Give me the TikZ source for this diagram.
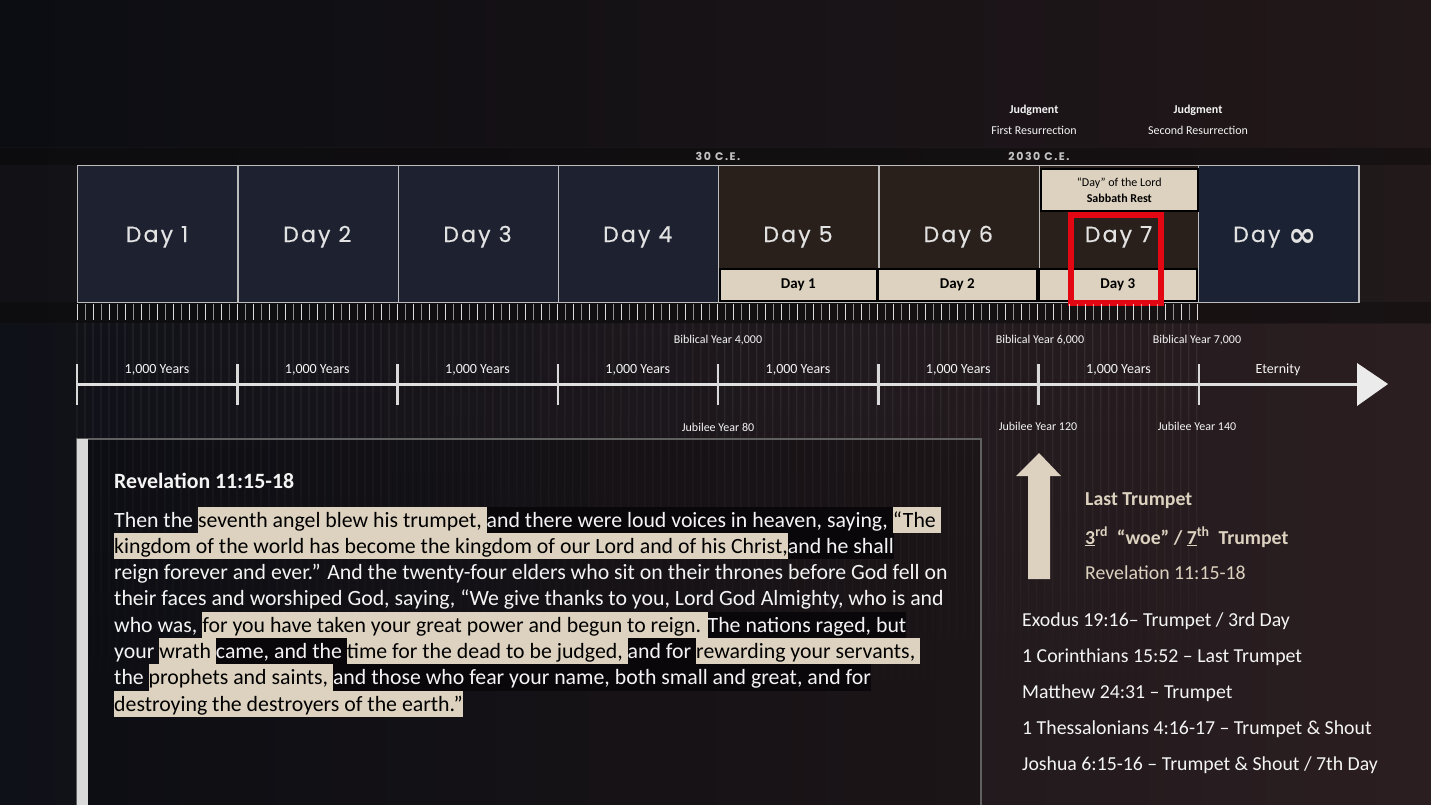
\documentclass[tikz,border=0pt]{standalone}
\usepackage{fontspec}
\setmainfont{Carlito}
\newfontfamily\dayfont[LetterSpace=10, FakeBold=0.5]{Poppins}
\newfontfamily\erafont[LetterSpace=14]{Poppins}
\newfontfamily\symfont{DejaVu Sans}
\usetikzlibrary{fadings}

\definecolor{bgleft}{HTML}{0F1118}
\definecolor{bgright}{HTML}{2B1E20}
\definecolor{bandl}{HTML}{121216}
\definecolor{bandr}{HTML}{21191A}
\definecolor{bluebox}{HTML}{1D2130}
\definecolor{infbox}{HTML}{1A2233}
\definecolor{brownbox}{HTML}{2A201B}
\definecolor{framec}{HTML}{BDBDBD}
\definecolor{beige}{HTML}{DDD2BF}
\definecolor{daytext}{HTML}{E2E2E2}
\definecolor{textw}{HTML}{F4F4F4}
\definecolor{darkhl}{HTML}{0A070A}
\definecolor{redmark}{HTML}{E30613}

% highlighted phrases in the quoted passage
\newcommand\hlb[1]{{\setlength\fboxsep{0pt}\colorbox{beige}{\color{black}\vrule height 20.5pt depth 5.8pt width 0pt #1}}}
\newcommand\hlk[1]{{\setlength\fboxsep{0pt}\colorbox{darkhl}{\vrule height 20.5pt depth 5.8pt width 0pt #1}}}

\tikzset{
  daybox/.style={draw=framec, line width=1.4pt, minimum width=160.25pt, minimum height=137pt, anchor=north west, inner sep=0pt},
  daylabel/.style={anchor=base, inner sep=0pt, font=\dayfont\fontsize{22}{22}\selectfont, text=daytext},
  beigebox/.style={draw=black, line width=1.6pt, fill=beige, anchor=north west, inner sep=0pt},
  smalllab/.style={font=\fontsize{12}{14}\selectfont, text=textw},
  boldlab/.style={font=\bfseries\fontsize{12}{14}\selectfont, text=textw},
  eralab/.style={font=\erafont\bfseries\fontsize{11}{13}\selectfont, text=textw!80!black},
  yearlab/.style={font=\fontsize{14}{16}\selectfont, text=textw},
  bodyline/.style={anchor=base west, inner sep=0pt, font=\fontsize{21.8}{26}\selectfont, text=textw},
  reflist/.style={anchor=west, inner sep=0pt, font=\fontsize{19.8}{22}\selectfont, text=textw},
  trumpet/.style={anchor=west, inner sep=0pt, font=\fontsize{19.8}{22}\selectfont, text=beige},
}

\begin{document}
\begin{tikzpicture}[x=1pt,y=-1pt]
\useasboundingbox (0,0) rectangle (1431,805);

% background
\shade[left color=bgleft, right color=bgright] (0,0) rectangle (1431,805);
\fill[black, opacity=0.2] (0,0) rectangle (1431,148);
\shade[left color=bandl, right color=bandr] (0,148) rectangle (1431,323);
\fill[black, opacity=0.3] (0,148) rectangle (1431,165);
\fill[black, opacity=0.25] (0,302) rectangle (1431,323);

% faint vertical stripes below the ruler
\fill[white, opacity=0.08, path fading=south]
  \foreach \i in {0,...,140} { (77+\i*8.007,323) rectangle ++(1.2,400) };

% the eight days
\foreach \k/\col in {0/bluebox, 1/bluebox, 2/bluebox, 3/bluebox, 4/brownbox, 5/brownbox, 6/brownbox} {
  \node[daybox, fill=\col] (day\k) at (77+\k*160.25,165) {};
}
\node[daybox, fill=infbox] (dayinf) at (1198,165) {};
\foreach \k/\lab in {0/Day 1, 1/Day 2, 2/Day 3, 3/Day 4, 4/Day 5, 5/Day 6, 6/Day 7} {
  \node[daylabel] (dlab\k) at (157+\k*160.25,242) {\lab};
}
\node[daylabel] (dlabinf) at (1275,242) {Day\hspace{8pt}\raisebox{-4.5pt}{\symfont\bfseries\fontsize{34}{34}\selectfont ∞}};

% Sabbath box and the three-day boxes
\node[beigebox, minimum width=157pt, minimum height=42pt] (sabbath) at (1040,168) {};
\node[font=\fontsize{12}{14}\selectfont, text=black, align=center] (sabtxt) at (sabbath.center)
  {“Day” of the Lord\\[2pt]\bfseries Sabbath Rest};
\node[beigebox, minimum width=157pt, minimum height=32pt] (tday1) at (719,268) {};
\node[beigebox, minimum width=159pt, minimum height=32pt] (tday2) at (877,268) {};
\node[beigebox, minimum width=158pt, minimum height=32pt] (tday3) at (1038,268) {};
\foreach \n/\t in {tday1/Day 1, tday2/Day 2, tday3/Day 3}
  \node[font=\bfseries\fontsize{15}{17}\selectfont, text=black] (\n lab) at (\n.center) {\t};

% red marker round Day 7 / Day 3
\node[draw=redmark, line width=5.5pt, minimum width=90pt, minimum height=88pt, inner sep=0pt] (redmark) at (1116,259) {};

% ruler ticks
\foreach \i in {0,...,140} {
  \pgfmathsetmacro\op{mod(\i,2)==0 ? 0.85 : 0.55}
  \draw[white, opacity=\op, line width=1pt] (77+\i*8.007,304) -- (77+\i*8.007,320);
}

% era labels and judgments
\node[eralab] (ce30) at (718,156) {30\hspace{4pt}C.E.};
\node[eralab] (ce2030) at (1039,156) {2030\hspace{4pt}C.E.};
\node[boldlab] (judg1) at (1034,110) {Judgment};
\node[smalllab] (res1) at (1034,130) {First Resurrection};
\node[boldlab] (judg2) at (1198,110) {Judgment};
\node[smalllab] (res2) at (1198,130) {Second Resurrection};

% timeline
\coordinate (tl0) at (77,384);
\coordinate (tlend) at (1358,384);
\draw[white!88!black, line width=3pt] (tl0) -- (tlend);
\fill[white!92!black] (1357,363) -- (1388,384) -- (1357,406) -- cycle;
\foreach \k in {0,...,7} {
  \draw[white!85!black, line width=2.5pt] (77+\k*160.25,364) -- (77+\k*160.25,405);
}
\foreach \k in {0,...,6} {
  \node[yearlab] (yrs\k) at (157+\k*160.25,370) {1,000 Years};
}
\node[yearlab] (eternity) at (1278,370) {Eternity};
\node[smalllab] (by4) at (718,340) {Biblical Year 4,000};
\node[smalllab] (by6) at (1040,340) {Biblical Year 6,000};
\node[smalllab] (by7) at (1197,340) {Biblical Year 7,000};
\node[smalllab] (jy80) at (718,427) {Jubilee Year 80};
\node[smalllab] (jy120) at (1038,426) {Jubilee Year 120};
\node[smalllab] (jy140) at (1197,426) {Jubilee Year 140};

% quotation panel
\fill[black, opacity=0.18] (77,439) rectangle (981,805);
\draw[gray!75!black, line width=1.2pt] (77,806) -- (77,439) -- (981,439) -- (981,806);
\fill[white!85!black] (77,439) rectangle (88,805);

\node[anchor=base west, inner sep=0pt, font=\bfseries\fontsize{21.8}{24}\selectfont, text=textw] (revtitle) at (114,488) {Revelation 11:15-18};
\node[bodyline] (l1) at (114,527.0) {Then the \hlb{seventh angel blew his trumpet, }\hlk{and there were loud voices in heaven, saying, }\hlb{“The }};
\node[bodyline] (l2) at (114,553.3) {\hlb{kingdom of the world has become the kingdom of our Lord and of his Christ,}\hlk{ and he shall}};
\node[bodyline] (l3) at (114,579.6) {reign forever and ever.” And the twenty-four elders who sit on their thrones before God fell on};
\node[bodyline] (l4) at (114,605.9) {their faces and worshiped God, saying, “We give thanks to you, Lord God Almighty, who is and};
\node[bodyline] (l5) at (114,632.2) {who was, \hlb{for you have taken your great power and begun to reign. }\hlk{The nations raged, but}};
\node[bodyline] (l6) at (114,658.5) {your \hlb{wrath }\hlk{came, and the }\hlb{time for the dead to be judged, }\hlk{and for }\hlb{rewarding your servants, }};
\node[bodyline] (l7) at (114,684.8) {the \hlb{prophets and saints, }\hlk{and those who fear your name, both small and great, and for}};
\node[bodyline] (l8) at (114,711.1) {\hlb{destroying the destroyers of the earth.”}};

% last trumpet arrow and notes
\fill[beige] (1028,579) -- (1028,476) -- (1016,476) -- (1039,453) -- (1061,476) -- (1050,476) -- (1050,579) -- cycle;
\node[trumpet, font=\bfseries\fontsize{19.8}{22}\selectfont] (lasttr) at (1085,501) {Last Trumpet};
\node[trumpet, font=\bfseries\fontsize{19.8}{22}\selectfont] (woe) at (1085,537)
  {\underline{3}\textsuperscript{rd}\ \ “woe” / \underline{7}\textsuperscript{th}\ \ Trumpet};
\node[trumpet] (revref) at (1085,573) {Revelation 11:15-18};

\node[reflist] (ref1) at (1022,621) {Exodus 19:16– Trumpet / 3rd Day};
\node[reflist] (ref2) at (1022,657) {1 Corinthians 15:52 – Last Trumpet};
\node[reflist] (ref3) at (1022,693) {Matthew 24:31 – Trumpet};
\node[reflist] (ref4) at (1022,729) {1 Thessalonians 4:16-17 – Trumpet \& Shout};
\node[reflist] (ref5) at (1022,765) {Joshua 6:15-16 – Trumpet \& Shout / 7th Day};
\end{tikzpicture}
\end{document}
